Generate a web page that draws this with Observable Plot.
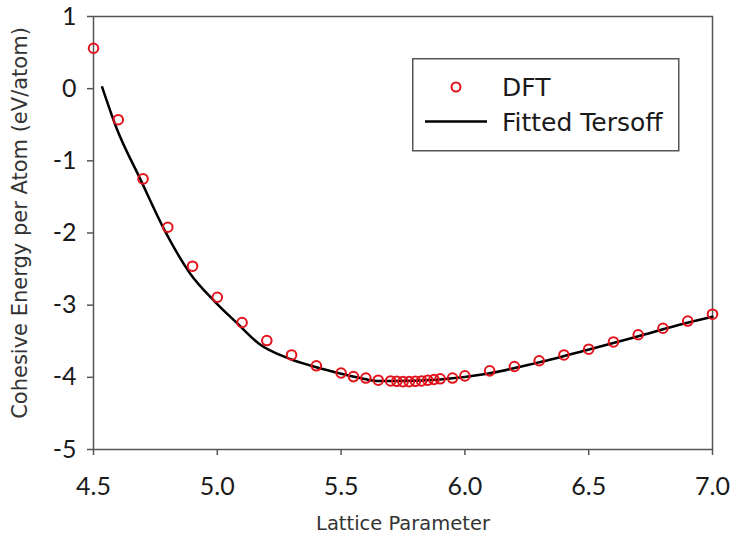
<!DOCTYPE html>
<html>
<head>
<meta charset="utf-8">
<script src="https://cdn.jsdelivr.net/npm/d3@7"></script>
<script src="https://cdn.jsdelivr.net/npm/@observablehq/plot@0.6"></script>
<style>
  html, body { margin: 0; padding: 0; background: #fff; }
  #wrap { position: relative; width: 733px; height: 544px; }
  #legend { position: absolute; left: 412px; top: 58px; }
</style>
</head>
<body>
<div id="wrap"></div>
<script>
// DFT data points
const dftX = [4.5, 4.6, 4.7, 4.8, 4.9, 5.0, 5.1, 5.2, 5.3, 5.4, 5.5, 5.55, 5.6, 5.65,
  5.7, 5.725, 5.75, 5.775, 5.8, 5.825, 5.85, 5.875, 5.9, 5.95, 6.0,
  6.1, 6.2, 6.3, 6.4, 6.5, 6.6, 6.7, 6.8, 6.9, 7.0];
const dftY = [0.56, -0.43, -1.25, -1.92, -2.46, -2.89, -3.24, -3.49, -3.69, -3.84, -3.94, -3.99, -4.01, -4.04,
  -4.05, -4.055, -4.06, -4.06, -4.055, -4.05, -4.04, -4.03, -4.02, -4.01, -3.98,
  -3.91, -3.85, -3.77, -3.69, -3.61, -3.51, -3.41, -3.32, -3.22, -3.125];

// Fitted Tersoff curve
const fitX = [4.535, 4.59, 4.69, 4.79, 4.89, 4.99, 5.08, 5.167, 5.29, 5.40, 5.50, 5.59, 5.65, 5.75, 5.90, 6.09, 6.29, 6.49, 6.69, 6.89, 7.0];
const fitY = [0.02, -0.52, -1.26, -1.98, -2.56, -2.95, -3.25, -3.53, -3.74, -3.86, -3.95, -4.02, -4.05, -4.05, -4.03, -3.95, -3.80, -3.625, -3.44, -3.25, -3.16];

const xTicks = [4.5, 5.0, 5.5, 6.0, 6.5, 7.0];
const yTicks = [-5, -4, -3, -2, -1, 0, 1];

const xLabel = "Lattice Parameter";
const yLabel = "Cohesive Energy per Atom (eV/atom)";
const seriesNames = ["DFT", "Fitted Tersoff"];

const dft = dftX.map((x, i) => ({x, y: dftY[i]}));
const fit = fitX.map((x, i) => ({x, y: fitY[i]}));

const font = "Lato, 'DejaVu Sans', sans-serif";
const wideFont = "'DejaVu Sans', sans-serif";
const textColor = "#1a1a1a";
const axisColor = "#555";

const chart = Plot.plot({
  width: 733,
  height: 544,
  marginLeft: 93,
  marginRight: 21,
  marginTop: 16,
  marginBottom: 95,
  style: {fontFamily: font, color: textColor, background: "#fff"},
  x: {domain: [4.5, 7.0]},
  y: {domain: [-5, 1]},
  marks: [
    Plot.frame({stroke: axisColor, strokeWidth: 1.5}),
    Plot.axisX({ticks: xTicks, tickFormat: d3.format(".1f"), tickSize: 6, tickPadding: 22,
      fontSize: 25, stroke: axisColor, strokeWidth: 1.5, fill: textColor, label: null}),
    Plot.axisY({ticks: yTicks, tickFormat: d => String(d), tickSize: 6, tickPadding: 11,
      fontSize: 25, stroke: axisColor, strokeWidth: 1.5, fill: textColor, label: null}),
    Plot.line(fit, {x: "x", y: "y", stroke: "#000", strokeWidth: 2.5, curve: "monotone-x"}),
    Plot.dot(dft, {x: "x", y: "y", r: 4.8, stroke: "#e3121b", strokeWidth: 2, fill: "none"}),
    Plot.text([xLabel], {frameAnchor: "bottom", dy: 74, fontSize: 19.5, fontFamily: wideFont, fill: "#333",
      lineAnchor: "middle", textAnchor: "middle"}),
    Plot.text([yLabel], {frameAnchor: "left", dx: -73, dy: -10, rotate: -90, fontSize: 21, fontFamily: wideFont, fill: "#333",
      lineAnchor: "middle", textAnchor: "middle"})
  ]
});

const wrap = document.getElementById("wrap");
wrap.appendChild(chart);

// Legend
const lg = d3.create("svg").attr("id", "legend").attr("width", 268).attr("height", 94)
  .style("font-family", wideFont);
lg.append("rect").attr("x", 0.75).attr("y", 0.75).attr("width", 266).attr("height", 92)
  .attr("fill", "#fff").attr("stroke", axisColor).attr("stroke-width", 1.5);
lg.append("circle").attr("cx", 44).attr("cy", 29).attr("r", 4.5)
  .attr("fill", "none").attr("stroke", "#e3121b").attr("stroke-width", 2);
lg.append("line").attr("x1", 13).attr("x2", 75).attr("y1", 63.5).attr("y2", 63.5)
  .attr("stroke", "#000").attr("stroke-width", 2.5);
lg.selectAll("text.lbl").data(seriesNames).join("text")
  .attr("x", 90).attr("y", (d, i) => i === 0 ? 29 : 64)
  .attr("dy", "0.35em").attr("font-size", 25).attr("fill", textColor).text(d => d);
wrap.appendChild(lg.node());
</script>
</body>
</html>
